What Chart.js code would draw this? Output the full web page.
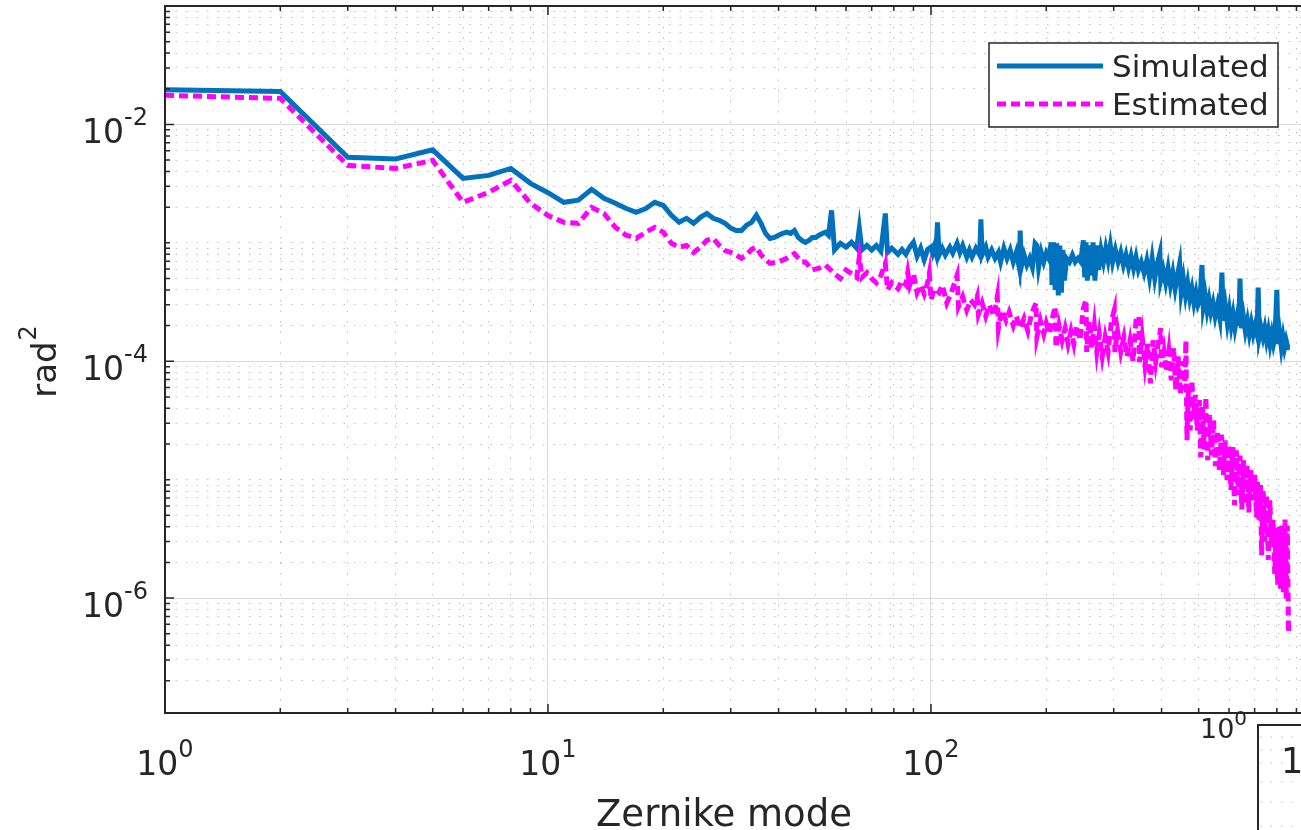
<!DOCTYPE html>
<html>
<head>
<meta charset="utf-8">
<title>Zernike mode</title>
<script src="https://cdn.jsdelivr.net/npm/chart.js@4.4.1/dist/chart.umd.min.js"></script>
<style>
  html, body { margin: 0; padding: 0; background: #fff; overflow: hidden; }
  canvas { display: block; }
</style>
</head>
<body>
<canvas id="myChart" width="1301" height="830"></canvas>
<script>
// modos de Zernike y varianza (rad^2)
const modosSim = [
  1, 2, 3, 4, 5, 6, 7, 8, 9, 10,
  11, 12, 13, 14, 15, 16, 17, 18, 19, 20,
  21, 22, 23, 24, 25, 26, 27, 28, 29, 30,
  31, 32, 33, 34, 35, 36, 37, 38, 39, 40,
  41, 42, 43, 44, 45, 46, 47, 48, 49, 50,
  51, 52, 53, 54,
  55, 56, 58, 60, 62, 64, 65, 66, 68, 70,
  72, 74, 76, 77, 79, 82, 84, 86, 88, 90,
  92, 94, 96, 98, 100, 101, 102, 103, 104, 105,
  107, 109, 112, 114, 117, 119, 121, 124, 126, 128,
  131, 134, 135, 136, 139, 141, 144, 147, 150, 152,
  155, 158, 161, 164, 167, 170, 171, 172, 175, 178,
  181, 184, 187, 189, 191, 194, 197, 200, 203, 206,
  207, 209, 211, 213, 215, 217, 219, 221, 223, 226,
  230, 234, 238, 242, 246, 250, 252, 254, 256, 259,
  262, 265, 268, 271, 274, 278, 282, 286, 290, 294,
  298, 303, 308, 313, 318, 323, 328, 333, 338, 343,
  348, 354, 360, 366, 372, 378, 384, 390, 396, 398,
  404, 410, 416, 422, 428, 434, 440, 446, 450, 456,
  462, 468, 474, 480, 486, 492, 498, 504, 510, 514,
  520, 526, 532, 538, 545, 552, 560, 568, 575, 580,
  587, 594, 601, 608, 615, 622, 630, 636, 641, 646,
  654, 662, 670, 678, 686, 694, 702, 710, 715, 720,
  728, 736, 744, 752, 760, 768, 776, 784, 791, 800,
  806, 814, 822, 830, 838, 846, 855, 865
];
const simulado = [
  0.0196, 0.0190, 0.00527, 0.00510, 0.00610, 0.00350, 0.00371, 0.00425, 0.00318, 0.00265,
  0.00220, 0.00229, 0.00283, 0.00238, 0.00216, 0.00195, 0.00181, 0.00195, 0.00220, 0.00207,
  0.00171, 0.00149, 0.00161, 0.00146, 0.00164, 0.00177, 0.00161, 0.00155, 0.00146, 0.00133,
  0.00127, 0.00127, 0.00141, 0.00149, 0.00171, 0.00146, 0.00120, 0.00109, 0.00111, 0.00116,
  0.00120, 0.00123, 0.00120, 0.00127, 0.00111, 0.00105, 0.00101, 0.00105, 0.00111, 0.00111,
  0.00116, 0.00120, 0.00123, 0.00116,
  0.00188, 0.00087, 0.00099, 0.00092, 0.00101, 0.00090, 0.00133, 0.00087, 0.00095, 0.00087,
  0.00095, 0.00085, 0.00177, 0.00083, 0.00090, 0.00080, 0.00088, 0.00080, 0.00092, 0.00101,
  0.00077, 0.00090, 0.00072, 0.00088, 0.00092, 0.00082, 0.00092, 0.00082, 0.00149, 0.00079,
  0.00090, 0.00079, 0.00092, 0.00082, 0.00099, 0.00083, 0.00095, 0.00076, 0.00087, 0.00076,
  0.00090, 0.00079, 0.00158, 0.00079, 0.00092, 0.00076, 0.00087, 0.00074, 0.00083, 0.00069,
  0.00090, 0.00074, 0.00087, 0.00069, 0.00083, 0.00062, 0.00127, 0.00062, 0.00079, 0.00065,
  0.00074, 0.00062, 0.00099, 0.00095, 0.00062, 0.00083, 0.00069, 0.00082, 0.00074, 0.00101,
  0.00044, 0.00101, 0.00040, 0.00099, 0.00036, 0.00095, 0.00038, 0.00087, 0.00048, 0.00074,
  0.00069, 0.00079, 0.00069, 0.00074, 0.00069, 0.00105, 0.00051, 0.00101, 0.00048, 0.00095,
  0.00053, 0.00101, 0.00048, 0.00095, 0.00059, 0.00087, 0.00069, 0.00090, 0.00071, 0.00095,
  0.00069, 0.00087, 0.00069, 0.00083, 0.00065, 0.00079, 0.00062, 0.00077, 0.00061, 0.00076,
  0.00059, 0.00069, 0.00056, 0.00071, 0.00051, 0.00074, 0.00050, 0.00067, 0.00082, 0.00048,
  0.00059, 0.00046, 0.00061, 0.00044, 0.00056, 0.00041, 0.00053, 0.00067, 0.00038, 0.00050,
  0.00036, 0.00046, 0.00034, 0.00041, 0.00031, 0.00038, 0.00030, 0.00033, 0.00065, 0.00029,
  0.00036, 0.00027, 0.00033, 0.00026, 0.00031, 0.00024, 0.00030, 0.00023, 0.00056, 0.00022,
  0.00029, 0.00021, 0.00027, 0.00020, 0.00025, 0.00019, 0.00024, 0.00020, 0.00050, 0.00019,
  0.00024, 0.00018, 0.00022, 0.00017, 0.00021, 0.00017, 0.00020, 0.00017, 0.00042, 0.00016,
  0.00019, 0.00016, 0.00019, 0.00015, 0.00018, 0.00014, 0.00017, 0.00014, 0.00016, 0.00040,
  0.00014, 0.00017, 0.00013, 0.00016, 0.00013, 0.00015, 0.00013, 0.00013
];
const modosEst = [
  1, 2, 3, 4, 5, 6, 7, 8, 9, 10,
  11, 12, 13, 14, 15, 16, 17, 18, 19, 20,
  21, 22, 23, 24, 25, 26, 27, 28, 29, 30,
  31, 32, 33, 34, 35, 36, 37, 38, 40, 42,
  44, 46, 47, 49, 51, 53,
  56, 58, 60, 62, 64, 65, 66, 68, 70, 72,
  74, 76, 77, 79, 82, 84, 86, 87, 88, 90,
  92, 94, 96, 98, 99, 100, 102, 105, 107, 110,
  113, 117, 118, 121, 124, 127, 130, 132, 133, 136,
  139, 142, 146, 149, 150, 153, 157, 160, 164, 167,
  171, 175, 179, 183, 188, 189, 193, 197, 200, 204,
  208, 211, 212, 216, 220, 224, 228, 232, 236, 240,
  245, 250, 254, 255, 259, 263, 267, 271, 275, 280,
  285, 290, 296, 301, 302, 307, 313, 319, 325, 331,
  337, 343, 349, 350, 356, 362, 368, 374, 380, 386,
  392, 398, 400, 406, 412, 418, 424, 430, 436, 442,
  448, 454, 460, 463, 466, 470, 475, 480, 485, 490,
  496, 502, 506, 511, 517, 522, 528, 534, 540, 547,
  553, 560, 566, 573, 580, 587, 593, 600, 607, 614,
  620, 627, 634, 641, 648, 655, 662, 669, 676, 684,
  692, 700, 708, 712, 718, 725, 730, 737, 744, 752,
  760, 767, 775, 782, 790, 797, 804, 811, 818, 825,
  832, 840, 846, 852, 858, 860
];
const estimado = [
  0.0176, 0.0166, 0.00451, 0.00425, 0.00497, 0.00220, 0.00267, 0.00337, 0.00216, 0.00170,
  0.00149, 0.00146, 0.00199, 0.00177, 0.00135, 0.00116, 0.00109, 0.00123, 0.00135, 0.00123,
  0.00099, 0.00092, 0.00095, 0.00083, 0.00092, 0.00105, 0.00109, 0.00095, 0.00086, 0.00083,
  0.00079, 0.00074, 0.00079, 0.00088, 0.00092, 0.00079, 0.00072, 0.00067, 0.00069, 0.00074,
  0.00081, 0.00069, 0.00069, 0.00059, 0.00061, 0.00065,
  0.00055, 0.00050, 0.00059, 0.00055, 0.00051, 0.00076, 0.00051, 0.00056, 0.00050, 0.00046,
  0.00053, 0.00067, 0.00040, 0.00046, 0.00041, 0.00048, 0.00044, 0.00056, 0.00044, 0.00055,
  0.00038, 0.00044, 0.00037, 0.00046, 0.00055, 0.00033, 0.00041, 0.00038, 0.00044, 0.00031,
  0.00038, 0.00053, 0.00029, 0.00035, 0.00027, 0.00033, 0.00030, 0.00035, 0.00025, 0.00031,
  0.00024, 0.00030, 0.00024, 0.00035, 0.00019, 0.00027, 0.00022, 0.00026, 0.00020, 0.00024,
  0.00019, 0.00023, 0.00018, 0.00025, 0.00031, 0.00016, 0.00022, 0.00017, 0.00021, 0.00017,
  0.00024, 0.00029, 0.00013, 0.00020, 0.00015, 0.00019, 0.00014, 0.00018, 0.00014, 0.00020,
  0.00015, 0.00028, 0.00033, 0.00012, 0.00022, 0.00013, 0.00020, 0.00012, 0.00017, 0.00011,
  0.00016, 0.00012, 0.00022, 0.00027, 0.00012, 0.00018, 0.00012, 0.00016, 0.00011, 0.00015,
  0.00010, 0.00022, 0.00024, 0.000098, 0.00016, 0.000093, 0.00014, 0.000065, 0.00015, 0.000098,
  0.00014, 0.00019, 0.000089, 0.00012, 0.000081, 0.00012, 0.000069, 0.00013, 0.000057, 0.00011,
  0.000052, 0.00010, 0.000057, 0.00015, 0.0000215, 0.000063, 0.000026, 0.000069, 0.000032, 0.000052,
  0.000026, 0.000047, 0.0000155, 0.000042, 0.000018, 0.00005, 0.0000146, 0.000035, 0.000016, 0.000032,
  0.000013, 0.000026, 0.000012, 0.000024, 0.000011, 0.0000215, 0.0000099, 0.0000195, 0.0000082, 0.0000188,
  0.0000061, 0.0000177, 0.0000074, 0.000016, 0.0000056, 0.0000146, 0.0000061, 0.0000133, 0.0000053, 0.000012,
  0.0000067, 0.000011, 0.0000048, 0.0000099, 0.0000046, 0.000009, 0.0000023, 0.0000082, 0.000003, 0.0000074,
  0.0000021, 0.0000067, 0.0000028, 0.0000046, 0.0000016, 0.000004, 0.0000013, 0.000004, 0.0000012, 0.0000041,
  0.0000011, 0.0000046, 0.00000097, 0.0000041, 0.00000051, 0.00000059
];
const leyenda = ['Simulated', 'Estimated'];
const ticksX = [1, 10, 100];          // marcas con etiqueta
const expX = ['0', '1', '2'];
const ticksY = [1e-2, 1e-4, 1e-6];
const expY = ['-2', '-4', '-6'];
const tituloX = 'Zernike mode';
const tituloY = 'rad';

const texto = '#262626';
const azul = '#0072BD';
const rosa = '#FF00FF';

function decadas(min, max) {
  const out = [];
  for (let e = Math.floor(Math.log10(min)); e <= Math.ceil(Math.log10(max)); e++) {
    for (let k = 1; k < 10; k++) {
      const v = k * Math.pow(10, e);
      if (v >= min * 0.999 && v <= max * 1.001) out.push(v);
    }
  }
  return out;
}
function esMayor(v, lista) {
  return lista.some(t => Math.abs(Math.log10(v) - Math.log10(t)) < 1e-6);
}
function pot(ctx, base, ex, x, y, fb, fe, subida, align) {
  ctx.font = fb + 'px "DejaVu Sans"';
  const wb = ctx.measureText(base).width;
  ctx.font = fe + 'px "DejaVu Sans"';
  const we = ctx.measureText(ex).width;
  let x0 = align === 'right' ? x - wb - we : (align === 'left' ? x : x - (wb + we) / 2);
  ctx.textAlign = 'left';
  ctx.textBaseline = 'alphabetic';
  ctx.font = fb + 'px "DejaVu Sans"';
  ctx.fillText(base, x0, y);
  ctx.font = fe + 'px "DejaVu Sans"';
  ctx.fillText(ex, x0 + wb, y - subida);
}

const ejes = {
  id: 'ejes',
  afterDraw(chart) {
    const { ctx, chartArea: a, scales: { x, y } } = chart;
    ctx.save();
    // caja
    ctx.strokeStyle = texto;
    ctx.lineWidth = 2;
    ctx.beginPath();
    ctx.moveTo(a.right + 2, a.top); ctx.lineTo(a.left, a.top);
    ctx.lineTo(a.left, a.bottom); ctx.lineTo(a.right + 2, a.bottom);
    ctx.stroke();
    // marcas hacia dentro
    ctx.lineWidth = 1.5;
    ctx.beginPath();
    x.ticks.forEach(t => {
      const px = x.getPixelForValue(t.value);
      const l = esMayor(t.value, ticksX) ? 9 : 5;
      ctx.moveTo(px, a.bottom); ctx.lineTo(px, a.bottom - l);
      ctx.moveTo(px, a.top); ctx.lineTo(px, a.top + l);
    });
    y.ticks.forEach(t => {
      const py = y.getPixelForValue(t.value);
      const l = esMayor(t.value, ticksY) ? 9 : 5;
      ctx.moveTo(a.left, py); ctx.lineTo(a.left + l, py);
    });
    ctx.stroke();
    // etiquetas
    ctx.fillStyle = texto;
    ticksX.forEach((v, i) => pot(ctx, '10', expX[i], x.getPixelForValue(v), 775, 33, 24, 18, 'center'));
    ticksY.forEach((v, i) => pot(ctx, '10', expY[i], 148, y.getPixelForValue(v) + 19, 33, 24, 18, 'right'));
    ctx.font = '37px "DejaVu Sans"';
    ctx.textAlign = 'center';
    ctx.fillText(tituloX, 724, 826);
    ctx.save();
    ctx.translate(56, 362);
    ctx.rotate(-Math.PI / 2);
    ctx.font = '34px "DejaVu Sans"';
    const wr = ctx.measureText(tituloY).width;
    ctx.font = '24px "DejaVu Sans"';
    const w2 = ctx.measureText('2').width;
    ctx.textAlign = 'left';
    ctx.font = '34px "DejaVu Sans"';
    ctx.fillText(tituloY, -(wr + w2) / 2, 0);
    ctx.font = '24px "DejaVu Sans"';
    ctx.fillText('2', -(wr + w2) / 2 + wr + 1, -20);
    ctx.restore();
    // leyenda
    ctx.fillStyle = '#fff';
    ctx.fillRect(989, 43, 289, 84);
    ctx.strokeStyle = texto;
    ctx.lineWidth = 1.5;
    ctx.strokeRect(989, 43, 289, 84);
    const ds = chart.data.datasets;
    [66, 104].forEach((ly, i) => {
      ctx.strokeStyle = ds[i].borderColor;
      ctx.lineWidth = 5;
      ctx.setLineDash(ds[i].borderDash || []);
      ctx.beginPath(); ctx.moveTo(997, ly); ctx.lineTo(1103, ly); ctx.stroke();
      ctx.setLineDash([]);
      ctx.fillStyle = texto;
      ctx.font = '31px "DejaVu Sans"';
      ctx.textAlign = 'left';
      ctx.fillText(ds[i].label, 1112, ly + 11);
    });
    // trozo del siguiente panel, abajo a la derecha
    ctx.strokeStyle = texto;
    ctx.lineWidth = 2;
    ctx.beginPath(); ctx.moveTo(1258, 830); ctx.lineTo(1258, 725); ctx.lineTo(1301, 725); ctx.stroke();
    ctx.strokeStyle = 'rgba(150,150,150,0.6)';
    ctx.lineWidth = 1;
    ctx.setLineDash([1.5, 9]);
    [737, 750, 763, 782, 802, 826].forEach(py => {
      ctx.beginPath(); ctx.moveTo(1260, py); ctx.lineTo(1301, py); ctx.stroke();
    });
    ctx.setLineDash([]);
    ctx.fillStyle = texto;
    ctx.font = '35px "DejaVu Sans"';
    ctx.textAlign = 'left';
    ctx.fillText('1', 1281, 773);
    pot(ctx, '10', '0', 1200, 738, 27, 20, 13, 'left');
    ctx.restore();
  }
};

const grid = (lista) => ({
  drawTicks: false,
  tickLength: 0,
  lineWidth: 1,
  color: c => (c.tick && esMayor(c.tick.value, lista)) ? '#d9d9d9' : 'rgba(150,150,150,0.6)'
});
const borde = (lista) => ({
  display: false,
  dash: c => (c.tick && esMayor(c.tick.value, lista)) ? [] : [1.5, 9]
});

new Chart(document.getElementById('myChart'), {
  type: 'line',
  data: {
    datasets: [
      {
        label: leyenda[0],
        data: modosSim.map((m, i) => ({ x: m, y: simulado[i] })),
        borderColor: azul,
        borderWidth: 5,
        pointRadius: 0,
        tension: 0,
        order: 2
      },
      {
        label: leyenda[1],
        data: modosEst.map((m, i) => ({ x: m, y: estimado[i] })),
        borderColor: rosa,
        borderWidth: 5,
        borderDash: [9, 5],
        pointRadius: 0,
        tension: 0,
        order: 1
      }
    ]
  },
  options: {
    responsive: false,
    animation: false,
    devicePixelRatio: 1,
    layout: { padding: { top: 6, left: 0, right: 0, bottom: 0 } },
    plugins: { legend: { display: false }, tooltip: { enabled: false } },
    scales: {
      x: {
        type: 'logarithmic',
        min: 1,
        max: 925,
        afterBuildTicks: s => { s.ticks = decadas(1, 925).map(v => ({ value: v })); },
        afterFit: s => { s.height = 117; },
        ticks: { display: false },
        grid: grid([10, 100]),
        border: borde([10, 100])
      },
      y: {
        type: 'logarithmic',
        min: 1.07e-7,
        max: 0.1,
        afterBuildTicks: s => { s.ticks = decadas(1.07e-7, 0.1).map(v => ({ value: v })); },
        afterFit: s => { s.width = 165; },
        ticks: { display: false },
        grid: grid(ticksY),
        border: borde(ticksY)
      }
    }
  },
  plugins: [ejes]
});
</script>
</body>
</html>
